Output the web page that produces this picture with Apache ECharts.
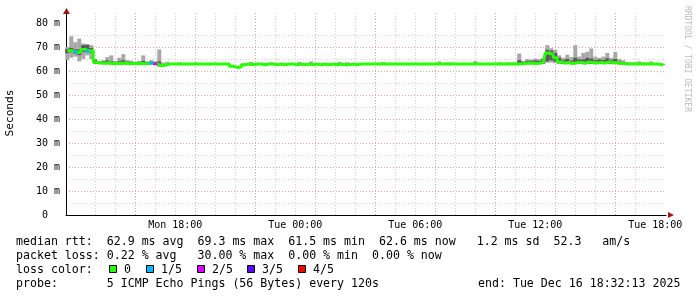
<!DOCTYPE html>
<html><head><meta charset="utf-8">
<script src="https://cdn.jsdelivr.net/npm/echarts@6/dist/echarts.min.js"></script>
<style>html,body{margin:0;padding:0;background:#fff}#c{width:697px;height:297px}</style>
</head><body><div id="c"></div><script>
// time axis in hours since Mon 00:00
const startHour = 12.5369;   // Mon 12:32:13
const endHour = 42.5369;     // Tue 18:32:13
const sampleStart = 12.6, sampleStep = 0.2;

const median = [
 68.3,68.6,68.0,67.6,69.0,68.3,68.6,63.6,63.3,63.2,
 63.4,63.0,63.2,63.1,63.3,63.0,63.2,63.0,63.2,63.0,
 63.1,63.3,63.0,62.2,62.4,62.9,62.9,62.9,62.9,62.9,
 62.9,62.9,62.9,62.9,62.9,62.9,62.9,62.9,62.9,62.9,
 62.9,62.0,61.5,61.7,62.6,62.9,62.6,62.9,62.9,62.6,
 62.9,62.9,62.6,62.9,62.6,62.9,62.9,62.6,62.9,62.6,
 62.9,62.6,62.9,62.6,62.9,62.6,62.9,62.6,62.9,62.6,
 62.6,62.9,62.6,62.9,62.9,62.9,62.9,62.9,62.9,62.9,
 62.9,62.9,62.9,62.9,62.9,62.9,62.9,62.9,62.9,62.9,
 62.9,62.9,62.9,62.9,62.9,62.9,62.9,62.9,62.9,62.9,
 62.9,62.9,62.9,62.9,62.9,62.9,62.9,62.9,62.9,62.9,
 62.9,62.9,62.9,62.9,63.0,63.2,63.3,63.1,63.2,63.5,
 67.5,66.8,65.5,63.8,63.3,63.5,63.1,63.4,63.6,63.2,
 63.8,63.5,63.3,63.6,63.3,63.8,63.4,63.5,63.2,63.0,
 62.9,62.9,62.9,62.9,62.9,62.9,62.9,62.9,62.7,62.6
];
const smokeHi = [
 70.0,74.5,72.0,73.5,71.5,71.0,70.8,65.0,64.0,64.5,
 65.8,66.5,64.2,65.5,67.0,64.5,64.3,63.8,64.2,66.5,
 64.0,64.5,64.0,69.0,63.5,63.8,63.4,63.2,63.6,63.2,
 63.2,63.2,63.5,63.2,63.2,63.2,63.2,63.2,63.2,63.2,
 63.2,62.6,62.0,62.2,63.2,63.2,63.8,63.2,63.2,63.2,
 63.2,63.6,63.2,63.2,63.2,63.2,63.2,63.2,63.8,63.2,
 63.2,64.0,63.2,63.2,63.2,63.2,63.2,63.2,63.8,63.2,
 63.7,63.2,63.2,63.2,63.2,63.2,63.2,63.2,63.2,63.7,
 63.2,63.2,63.2,63.2,63.2,63.2,63.2,63.2,63.2,63.2,
 63.2,63.2,63.2,64.0,63.2,63.6,63.6,63.2,63.2,63.2,
 63.2,63.2,64.2,63.2,63.2,63.2,63.2,63.2,63.6,63.2,
 63.6,63.5,63.6,67.3,64.2,65.0,64.8,65.2,65.0,65.5,
 70.8,69.5,68.8,66.5,65.5,66.8,65.8,70.8,66.0,67.5,
 68.0,69.4,66.0,65.5,66.0,67.5,65.5,68.0,65.0,64.5,
 63.8,63.6,63.6,64.0,63.6,63.5,64.0,63.2,63.2,63.0
];
const smokeLo = [
 64.5,65.5,66.0,64.0,65.0,66.5,65.0,63.0,62.8,62.8,
 62.8,62.6,62.8,62.7,62.8,62.6,62.8,62.6,62.8,62.6,
 62.7,62.8,62.6,61.8,62.0,62.6,62.6,62.6,62.6,62.6,
 62.6,62.6,62.6,62.6,62.6,62.6,62.6,62.6,62.6,62.6,
 62.6,61.7,61.2,61.4,62.4,62.6,62.4,62.6,62.6,62.4,
 62.6,62.6,62.4,62.6,62.4,62.6,62.6,62.4,62.6,62.4,
 62.6,62.4,62.6,62.4,62.6,62.4,62.6,62.4,62.6,62.4,
 62.4,62.6,62.4,62.6,62.6,62.6,62.6,62.6,62.6,62.6,
 62.6,62.6,62.6,62.6,62.6,62.6,62.6,62.6,62.6,62.6,
 62.6,62.6,62.6,62.6,62.6,62.6,62.6,62.6,62.6,62.6,
 62.6,62.6,62.6,62.6,62.6,62.6,62.6,62.6,62.6,62.6,
 62.6,62.6,62.6,62.6,62.7,62.8,62.8,62.7,62.8,62.9,
 63.5,63.5,63.2,63.0,62.8,62.9,62.7,62.9,63.0,62.8,
 63.0,62.9,62.8,63.0,62.8,63.0,62.8,62.9,62.7,62.6,
 62.6,62.6,62.6,62.6,62.6,62.6,62.6,62.6,62.4,62.3
];
const darkHi = [
 69.2,69.6,69.0,69.0,70.8,71.0,69.6,64.6,63.9,64.0,
 64.4,64.0,63.8,64.0,64.5,63.9,63.8,63.7,63.8,64.2,
 63.7,63.9,63.7,64.0,null,null,null,null,null,null,
 null,null,null,null,null,null,null,null,null,null,
 null,null,null,null,null,null,null,null,null,null,
 null,null,null,null,null,null,null,null,null,null,
 null,null,null,null,null,null,null,null,null,null,
 null,null,null,null,null,null,null,null,null,null,
 null,null,null,null,null,null,null,null,null,null,
 null,null,null,null,null,null,null,null,null,null,
 null,null,null,null,null,null,null,null,null,null,
 null,null,null,64.5,63.8,64.2,64.3,64.4,64.2,65.0,
 68.8,68.5,67.5,65.5,64.5,65.0,64.3,65.5,64.8,64.8,
 65.5,65.2,64.5,64.8,64.6,65.3,64.5,65.0,64.0,63.6,
 null,null,null,null,null,null,null,null,null,null
];
const darkLo = [
 67.4,67.8,67.2,66.6,68.0,68.0,67.6,63.0,62.9,62.9,
 62.9,62.8,62.9,62.9,62.9,62.8,62.9,62.8,62.9,62.8,
 62.8,62.9,62.8,62.0,null,null,null,null,null,null,
 null,null,null,null,null,null,null,null,null,null,
 null,null,null,null,null,null,null,null,null,null,
 null,null,null,null,null,null,null,null,null,null,
 null,null,null,null,null,null,null,null,null,null,
 null,null,null,null,null,null,null,null,null,null,
 null,null,null,null,null,null,null,null,null,null,
 null,null,null,null,null,null,null,null,null,null,
 null,null,null,null,null,null,null,null,null,null,
 null,null,null,62.9,62.9,62.9,63.0,62.9,62.9,63.2,
 64.0,64.5,64.0,63.2,63.0,63.0,62.9,63.0,63.1,62.9,
 63.2,63.0,62.9,63.1,62.9,63.2,63.0,63.0,62.8,62.8,
 null,null,null,null,null,null,null,null,null,null
];
// samples with packet loss (index into the arrays above) and loss level (pings lost of 5)
const lossIndex = [2, 5, 21, 22];
const lossLevel = [1, 1, 1, 2];

const lossLabels = ['0', '1/5', '2/5', '3/5', '4/5'];
const lossColors = ['#26ff00', '#00b8ff', '#dd00ff', '#5e00ff', '#ff0000'];

const xTickHours = [13,14,15,16,17,18,19,20,21,22,23,24,25,26,27,28,29,30,31,32,33,34,35,36,37,38,39,40,41,42];
const xLabelHours = [18, 24, 30, 36, 42];
const yTicks = [0,5,10,15,20,25,30,35,40,45,50,55,60,65,70,75,80];
const yLabels = [0,10,20,30,40,50,60,70,80];

const legendLines = [
 'median rtt:  62.9 ms avg  69.3 ms max  61.5 ms min  62.6 ms now   1.2 ms sd  52.3   am/s',
 'packet loss: 0.22 % avg   30.00 % max  0.00 % min  0.00 % now',
 'loss color:',
 'probe:       5 ICMP Echo Pings (56 Bytes) every 120s'
];
const endText = 'end: Tue Dec 16 18:32:13 2025';
const yName = 'Seconds';
const watermark = 'RRDTOOL / TOBI OETIKER';

// ---------- build ----------
const times = median.map((_, i) => +(sampleStart + i * sampleStep).toFixed(4));
const smokeData = times.map((t, i) => [t, smokeLo[i], smokeHi[i]]);
const darkData = times.map((t, i) => [t, darkLo[i], darkHi[i]]).filter(d => d[1] != null && d[2] != null);
const medianData = times.map((t, i) => [t, median[i]]);
const lossData = lossIndex.map((idx, k) => [times[idx], median[idx], lossLevel[k]]);

function band(color) {
  return function (params, api) {
    const t = api.value(0), lo = api.value(1), hi = api.value(2);
    const p1 = api.coord([t - sampleStep / 2, hi]);
    const p2 = api.coord([t + sampleStep / 2, lo]);
    return { type: 'rect', shape: { x: p1[0], y: p1[1], width: p2[0] - p1[0], height: Math.max(1, p2[1] - p1[1]) }, style: { fill: color } };
  };
}
function lossSeg(params, api) {
  const t = api.value(0), v = api.value(1), lvl = api.value(2);
  const p1 = api.coord([t - sampleStep / 2, v]);
  const p2 = api.coord([t + sampleStep / 2, v]);
  return { type: 'rect', shape: { x: p1[0], y: p1[1] - 1.5, width: p2[0] - p1[0], height: 3 }, style: { fill: lossColors[lvl] } };
}

const mono = '"DejaVu Sans Mono", monospace';
const fontL = '11.6px ' + mono;
const graphics = [];
legendLines.forEach((s, i) => {
  graphics.push({ type: 'text', x: 16, y: 241.5 + i * 14, style: { text: s, font: fontL, fill: '#000', verticalAlign: 'middle' } });
});
graphics.push({ type: 'text', x: 478, y: 241.5 + 3 * 14, style: { text: endText, font: fontL, fill: '#000', verticalAlign: 'middle' } });
const sqX = [109, 146, 197, 247, 298];
lossLabels.forEach((lab, i) => {
  graphics.push({ type: 'rect', shape: { x: sqX[i] + 0.5, y: 265.5, width: 7, height: 7 }, style: { fill: lossColors[i], stroke: '#000', lineWidth: 1 } });
  graphics.push({ type: 'text', x: sqX[i] + 15, y: 269.5, style: { text: lab, font: fontL, fill: '#000', verticalAlign: 'middle' } });
});
graphics.push({ type: 'text', x: 10, y: 113, rotation: Math.PI / 2, style: { text: yName, font: '11.2px ' + mono, fill: '#000', align: 'center', verticalAlign: 'middle' } });
graphics.push({ type: 'text', x: 687, y: 59, rotation: -Math.PI / 2, style: { text: watermark, font: '8px ' + mono, fill: '#bcbcbc', align: 'center', verticalAlign: 'middle' } });
// axis arrows
graphics.push({ type: 'polygon', shape: { points: [[668, 212], [674, 215], [668, 218]] }, style: { fill: '#a01818' } });
graphics.push({ type: 'polygon', shape: { points: [[63, 14], [66.5, 8], [70, 14]] }, style: { fill: '#a01818' } });

const chart = echarts.init(document.getElementById('c'), null, { renderer: 'canvas' });
chart.setOption({
  animation: false,
  backgroundColor: '#fff',
  grid: { left: 66, top: 13, width: 600, height: 202, containLabel: false },
  xAxis: {
    type: 'value', min: startHour, max: endHour,
    axisLine: { show: true, onZero: false, lineStyle: { color: '#000', width: 1 } },
    axisTick: { show: false, customValues: xTickHours },
    axisLabel: {
      customValues: xLabelHours, margin: 5, color: '#000', fontFamily: mono, fontSize: 10,
      formatter: v => (v < 24 ? 'Mon ' : 'Tue ') + String(Math.round(v) % 24).padStart(2, '0') + ':00'
    },
    splitLine: { show: true, showMinLine: false, showMaxLine: false, lineStyle: { color: ['#d2d2d2', '#d2d2d2', '#e2a0a0'], width: 1, type: [1, 2] } }
  },
  yAxis: {
    type: 'value', min: 0, max: 84.17,
    axisLine: { show: true, lineStyle: { color: '#000', width: 1 } },
    axisTick: { show: false, customValues: yTicks },
    axisLabel: {
      customValues: yLabels, margin: 6, color: '#000', fontFamily: mono, fontSize: 10,
      formatter: v => v === 0 ? '0  ' : v + ' m'
    },
    splitLine: { show: true, showMaxLine: false, lineStyle: { color: ['#e2a0a0', '#d2d2d2'], width: 1, type: [1, 2] } }
  },
  series: [
    { type: 'custom', renderItem: band('#a8a8a8'), data: smokeData, z: 2, silent: true },
    { type: 'custom', renderItem: band('#585858'), data: darkData, z: 3, silent: true },
    { type: 'line', data: medianData, step: 'middle', symbol: 'none', z: 4, lineStyle: { color: lossColors[0], width: 3 } },
    { type: 'custom', renderItem: lossSeg, data: lossData, z: 5, silent: true }
  ],
  graphic: graphics
});
</script></body></html>
